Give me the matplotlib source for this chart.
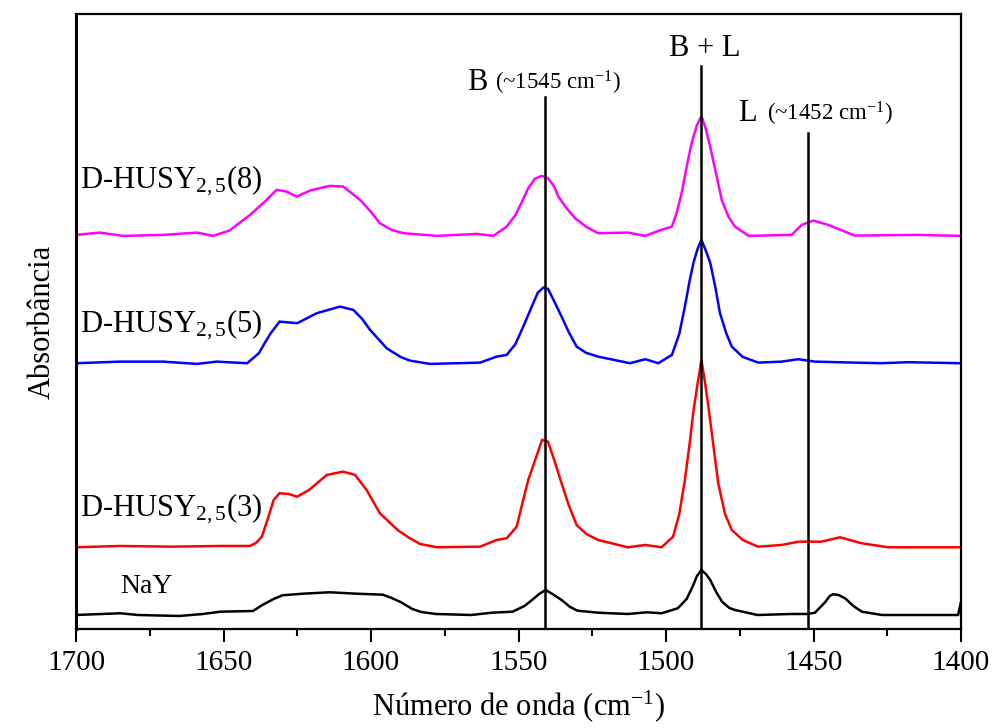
import numpy as np
import matplotlib
matplotlib.use("Agg")
import matplotlib.pyplot as plt
from matplotlib.ticker import MultipleLocator

plt.rcParams['font.family'] = ['Liberation Serif', 'DejaVu Serif']
plt.rcParams['mathtext.fontset'] = 'custom'
plt.rcParams['mathtext.rm'] = 'Liberation Serif'
plt.rcParams['mathtext.it'] = 'Liberation Serif:italic'

# spectra (wavenumber, absorbance with offsets, a.u.)
nay_w = [1700, 1685, 1679, 1665, 1657, 1651, 1640, 1637, 1633, 1630, 1623, 1614, 1605, 1596,
         1593, 1590, 1586, 1583, 1578, 1566, 1559, 1552, 1548, 1545.4, 1543, 1540.8, 1538.5,
         1535.4, 1532.5, 1530, 1523, 1513, 1506.5, 1501.5, 1496, 1493, 1491, 1489.5, 1488,
         1486.5, 1485, 1483, 1481, 1478.5, 1476.6, 1469, 1457.4, 1452, 1449.5, 1446, 1444.5,
         1443.4, 1441.5, 1439.3, 1436.5, 1433.6, 1426.8, 1401, 1400]
nay_a = [0.14, 0.157, 0.14, 0.13, 0.15, 0.173, 0.18, 0.237, 0.3, 0.337, 0.353, 0.367, 0.353,
         0.343, 0.31, 0.27, 0.2, 0.17, 0.15, 0.14, 0.163, 0.173, 0.23, 0.29, 0.35, 0.39,
         0.35, 0.29, 0.22, 0.183, 0.163, 0.15, 0.167, 0.157, 0.207, 0.3, 0.423, 0.53,
         0.59, 0.55, 0.49, 0.37, 0.273, 0.21, 0.19, 0.14, 0.15, 0.15, 0.163, 0.27, 0.33,
         0.347, 0.34, 0.307, 0.23, 0.173, 0.14, 0.14, 0.27]

h3_w = [1700, 1685, 1668, 1651, 1641, 1639, 1637, 1635, 1633, 1631, 1628, 1625, 1621, 1615,
        1609.5, 1605.4, 1601.5, 1597, 1591, 1587, 1583.4, 1577.7, 1563, 1557.4, 1554,
        1550.6, 1549, 1546.7, 1544, 1542, 1540, 1537.8, 1535.4, 1533, 1530.3, 1527, 1523,
        1513, 1507, 1501.5, 1497.6, 1495.5, 1493.6, 1492, 1490.7, 1489.3, 1488, 1486.8,
        1485.7, 1484, 1482.3, 1480, 1477.7, 1474, 1468.8, 1460.8, 1455, 1447.3, 1441,
        1433.7, 1424.7, 1400]
h3_a = [0.817, 0.83, 0.823, 0.83, 0.83, 0.86, 0.923, 1.1, 1.29, 1.357, 1.35, 1.323, 1.39,
        1.54, 1.573, 1.54, 1.39, 1.157, 0.99, 0.91, 0.85, 0.817, 0.823, 0.89, 0.907,
        1.023, 1.22, 1.49, 1.72, 1.89, 1.873, 1.68, 1.457, 1.24, 1.04, 0.95, 0.89,
        0.817, 0.84, 0.817, 0.923, 1.15, 1.49, 1.85, 2.18, 2.45, 2.69, 2.47,
        2.24, 1.85, 1.457, 1.15, 0.99, 0.89, 0.823, 0.84, 0.873, 0.873, 0.917,
        0.857, 0.817, 0.817]

h5_w = [1700, 1685, 1670.5, 1659, 1652.3, 1642, 1638, 1636, 1634, 1631, 1625, 1618.4,
        1610.5, 1606, 1603, 1600.3, 1594.7, 1590, 1586.8, 1580, 1563, 1557.4, 1554, 1551,
        1548, 1545.5, 1543.5, 1541.6, 1540, 1537.8, 1535.4, 1533, 1530.3, 1527, 1523,
        1512.2, 1507, 1502.6, 1498, 1495.5, 1493.6, 1492, 1490.7, 1489.3, 1488, 1486.6,
        1485, 1483.3, 1481.7, 1479.5, 1477.7, 1474, 1468.7, 1460.8, 1455.2, 1449.5, 1436,
        1427, 1418, 1400]
h5_a = [2.657, 2.673, 2.673, 2.65, 2.673, 2.657, 2.757, 2.86, 2.957, 3.073, 3.057, 3.157,
        3.223, 3.19, 3.1, 2.99, 2.807, 2.72, 2.683, 2.65, 2.663, 2.723, 2.74, 2.85,
        3.05, 3.223, 3.36, 3.413, 3.4, 3.27, 3.123, 2.97, 2.823, 2.76, 2.723,
        2.657, 2.697, 2.657, 2.74, 2.95, 3.223, 3.48, 3.66, 3.8, 3.89, 3.79,
        3.66, 3.42, 3.157, 2.95, 2.823, 2.72, 2.663, 2.673, 2.697, 2.673, 2.663,
        2.657, 2.667, 2.657]

h8_w = [1700, 1692, 1684, 1670.4, 1659, 1653.5, 1648, 1641, 1636, 1632, 1628.6, 1625.2,
        1620.7, 1614, 1609.4, 1603.7, 1600, 1597, 1593, 1589, 1577.7, 1564, 1558.5, 1554,
        1551, 1549, 1546.7, 1544.5, 1542.2, 1540, 1538, 1536.5, 1533.5, 1530.8, 1527, 1523,
        1512.8, 1507, 1502.6, 1498, 1496.5, 1494.7, 1493, 1491.3, 1489.6, 1488, 1486.5,
        1485.1, 1483, 1481.1, 1478.8, 1476.6, 1472, 1457.4, 1454, 1450, 1445, 1436,
        1415.6, 1400]
h8_a = [3.94, 3.963, 3.93, 3.94, 3.963, 3.93, 3.983, 4.14, 4.273, 4.39, 4.373, 4.323,
        4.383, 4.43, 4.423, 4.29, 4.17, 4.057, 3.99, 3.957, 3.93, 3.95, 3.93, 4.023,
        4.14, 4.26, 4.407, 4.5, 4.53, 4.507, 4.43, 4.323, 4.2, 4.107, 4.02, 3.957,
        3.963, 3.93, 3.98, 4.023, 4.15, 4.357, 4.62, 4.86, 5.03, 5.13, 5.0,
        4.83, 4.55, 4.29, 4.12, 4.023, 3.93, 3.94, 4.04, 4.083, 4.04, 3.933,
        3.94, 3.93]

# band markers: position and top of the line
band_pos = [1541, 1488, 1452]
band_top = [5.32, 5.63, 4.96]

fig = plt.figure(figsize=(10, 7.28), dpi=100)
ax = fig.add_axes([0.076, 0.136, 0.885, 0.845])

style = dict(lw=1.8, solid_joinstyle='miter')
ax.plot(nay_w, nay_a, color='black', **style)
ax.plot(h3_w, h3_a, color='#ff0000', **style)
ax.plot(h5_w, h5_a, color='#0000ff', **style)
ax.plot(h8_w, h8_a, color='#ff00ff', **style)

for p, t in zip(band_pos, band_top):
    ax.plot([p, p], [0, t], color='black', lw=1.8)

ax.set_xlim(1700, 1400)
ax.set_ylim(0, 6.15)
ax.set_yticks([])
ax.xaxis.set_major_locator(MultipleLocator(50))
ax.xaxis.set_minor_locator(MultipleLocator(25))
ax.tick_params(axis='x', which='major', direction='out', length=9, width=1.5,
               labelsize=21, pad=6)
ax.tick_params(axis='x', which='minor', direction='out', length=5, width=1.5)
for s in ax.spines.values():
    s.set_linewidth(1.6)
ax.spines['left'].set_linewidth(2.2)

ax.set_xlabel('Número de onda (cm$^{-1}$)', fontsize=22, labelpad=9)
ax.set_ylabel('Absorbância', fontsize=22, labelpad=14)

# curve labels
ax.text(1698.6, 4.41, 'D-HUSY$_{2,5}$(8)', fontsize=22, va='baseline')
ax.text(1698.6, 2.97, 'D-HUSY$_{2,5}$(5)', fontsize=22, va='baseline')
ax.text(1698.6, 1.13, 'D-HUSY$_{2,5}$(3)', fontsize=22, va='baseline')
ax.text(1685, 0.36, 'NaY', fontsize=20, va='baseline')

# band labels
ax.text(1567.5, 5.39, 'B', fontsize=22, va='baseline')
ax.text(1558, 5.39, '(~1545 cm$^{-1}$)', fontsize=16.5, va='baseline')
ax.text(1487, 5.73, 'B + L', fontsize=22, va='baseline', ha='center')
ax.text(1475.6, 5.08, 'L', fontsize=22, va='baseline')
ax.text(1465.8, 5.08, '(~1452 cm$^{-1}$)', fontsize=16.5, va='baseline')

fig.savefig('out.png', dpi=100)
